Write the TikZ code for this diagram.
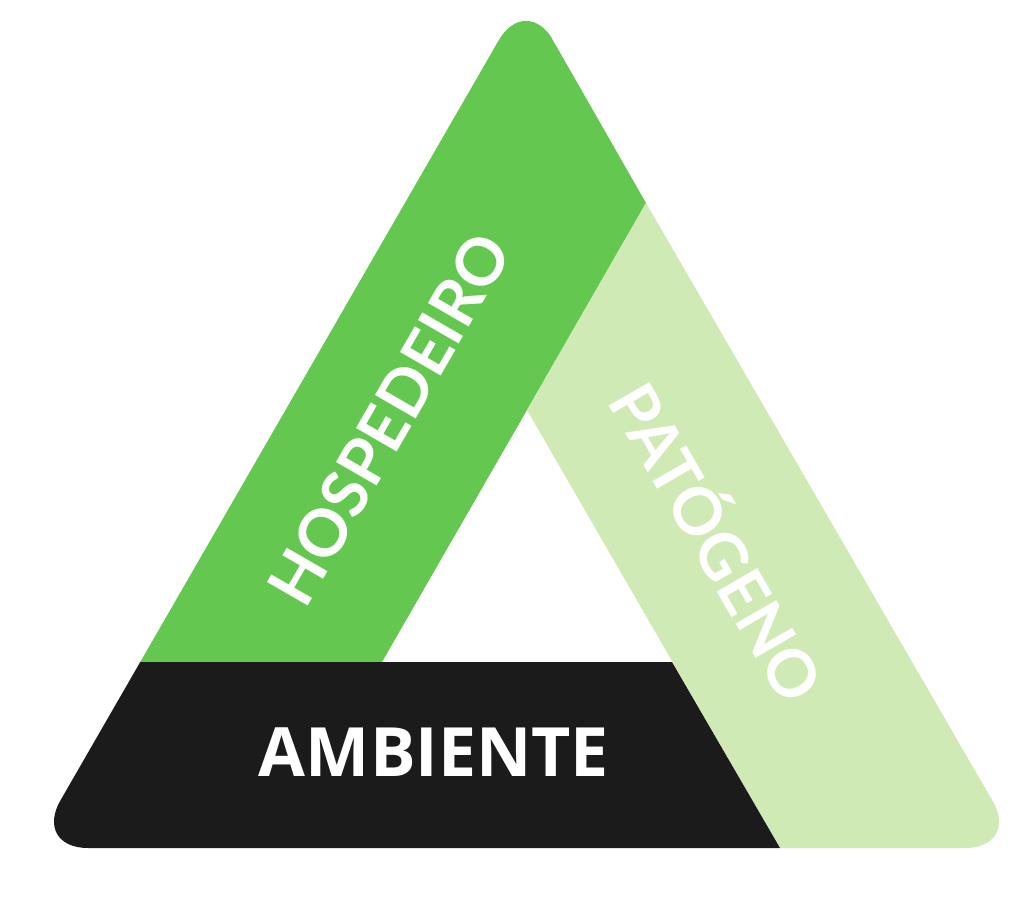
\documentclass[tikz,border=0pt]{standalone}
\usepackage{fontspec}
\setmainfont{Open Sans}
\newfontfamily\latofont{Lato}
\definecolor{hostgreen}{HTML}{64C850}
\definecolor{pathgreen}{HTML}{D0EAB6}
\definecolor{envblack}{HTML}{1B1B1B}
\tikzset{
  lbl/.style={text=white, font=\bfseries\fontsize{68}{80}\selectfont, inner sep=0pt, text height=49pt, text depth=0pt, anchor=center},
  rlbl/.style={lbl, font=\latofont\bfseries\fontsize{65}{78}\selectfont, text height=47pt}
}
\begin{document}
\begin{tikzpicture}[x=1pt,y=-1pt]
\useasboundingbox (0,0) rectangle (1024,912);
\coordinate (A) at (526,-7);
\coordinate (BL) at (33,848);
\coordinate (BR) at (1020,848);
\coordinate (IA) at (527,410);
\coordinate (IL) at (382,662);
\coordinate (IR) at (672,662);
\coordinate (OR) at (646,203);
\coordinate (OL) at (140,662);
\coordinate (BM) at (780,848);
\begin{scope}
\clip[rounded corners=55pt] (A) -- (BR) -- (BL) -- cycle;
\fill[hostgreen] (A) -- (OR) -- (IA) -- (IL) -- (OL) -- cycle;
\fill[pathgreen] (OR) -- (BR) -- (BM) -- (IA) -- cycle;
\fill[envblack] (OL) -- (IR) -- (BM) -- (BL) -- cycle;
\end{scope}
\node[rlbl, rotate=60] (host) at (389,419) {HOSPEDEIRO};
\node[rlbl, rotate=-60] (path) at (716,543) {PATÓGENO};
\node[lbl] (env) at (434,752) {AMBIENTE};
\end{tikzpicture}
\end{document}
